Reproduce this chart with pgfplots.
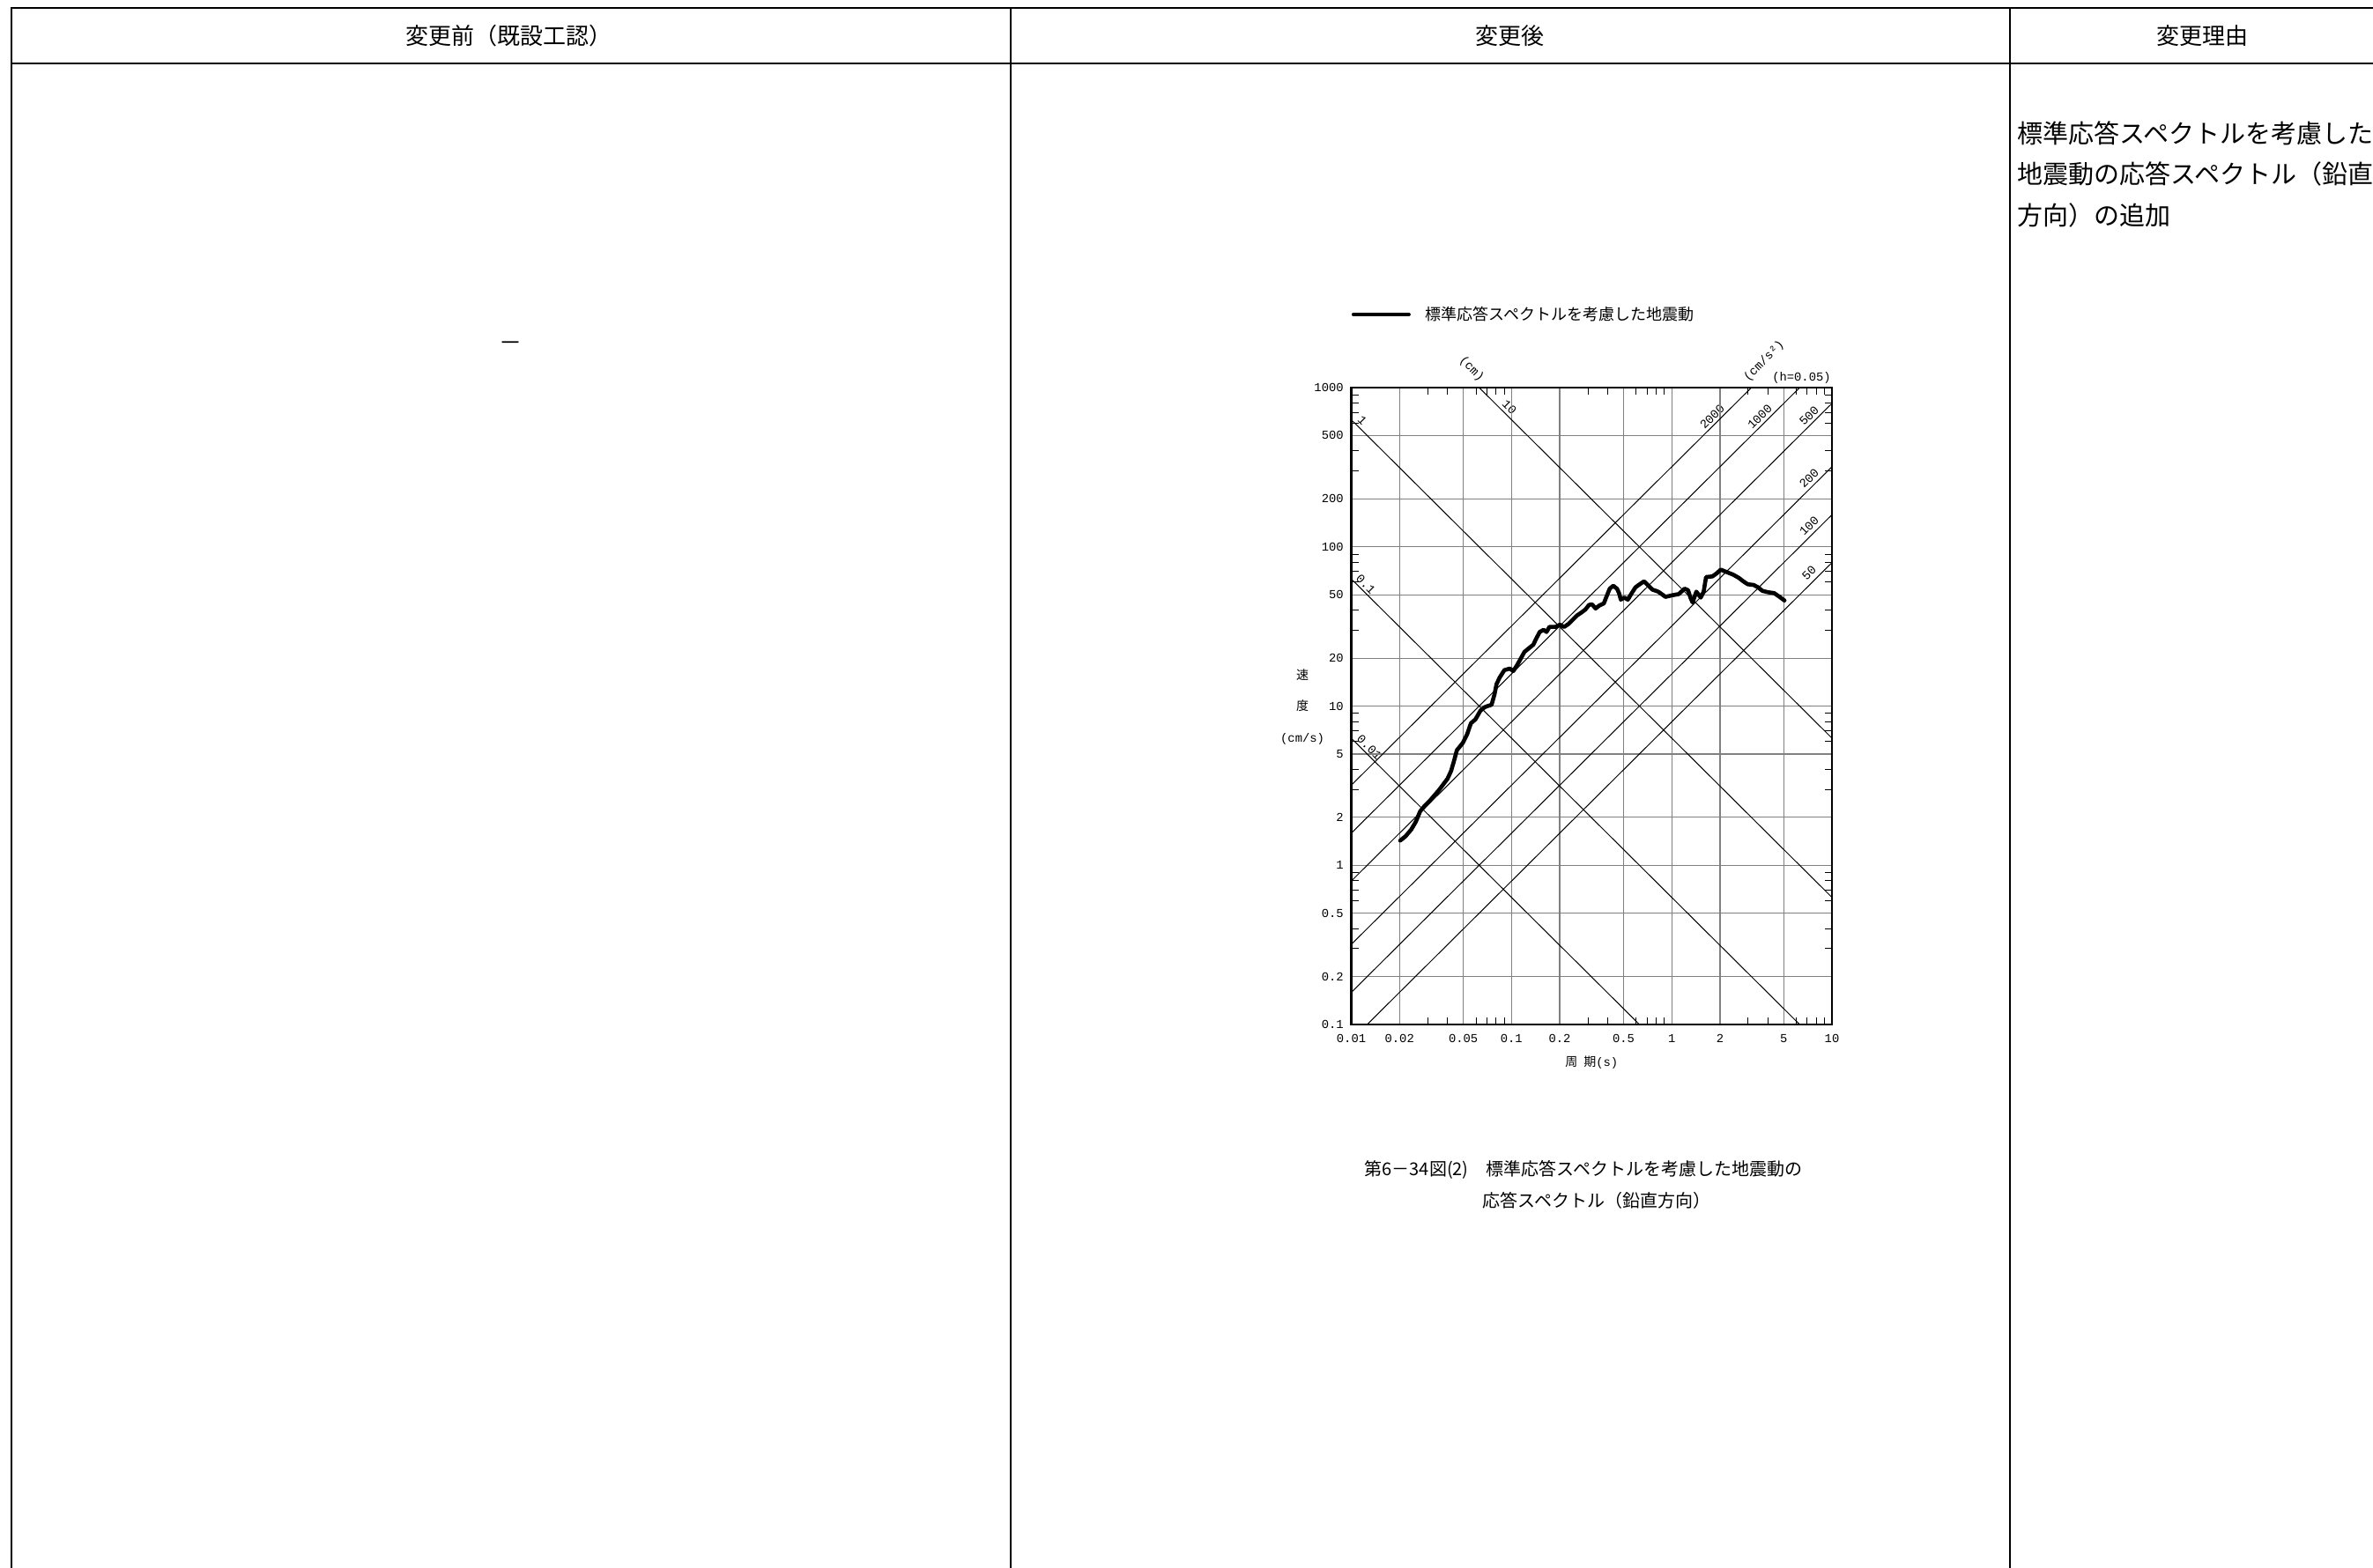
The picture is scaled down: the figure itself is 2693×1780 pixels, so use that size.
\documentclass[border=0pt]{standalone}
\usepackage{fontspec}
\setmainfont{Noto Sans CJK JP}
\newfontfamily\cjk{Noto Sans CJK JP}
\newfontfamily\tickfont{Liberation Mono}
\usepackage{pgfplots}
\pgfplotsset{compat=1.18}
\newcommand{\mono}{\tickfont\fontsize{6.9pt}{8pt}\selectfont}
\begin{document}
\begin{tikzpicture}
\begin{scope}[x=0.5pt,y=-0.5pt]
\path[use as bounding box] (0,0) rectangle (2693,1780);
% table lines
\draw[line width=1.2pt] (12,9) -- (2693,9);
\draw[line width=1.2pt] (12,72) -- (2693,72);
\draw[line width=1pt] (13,8) -- (13,1780);
\draw[line width=1pt] (1147,8) -- (1147,1780);
\draw[line width=1pt] (2281,8) -- (2281,1780);
% header texts
\node[font=\cjk\fontsize{13pt}{15pt}\selectfont] at (577,41) {変更前（既設工認）};
\node[font=\cjk\fontsize{13pt}{15pt}\selectfont] at (1713,41) {変更後};
\node[font=\cjk\fontsize{13pt}{15pt}\selectfont] at (2499,41) {変更理由};
\node[font=\cjk\fontsize{13pt}{15pt}\selectfont] at (579,393) {－};
\node[font=\cjk\fontsize{14.5pt}{16pt}\selectfont, anchor=west, inner sep=0pt] at (2289,151) {標準応答スペクトルを考慮した};
\node[font=\cjk\fontsize{14.5pt}{16pt}\selectfont, anchor=west, inner sep=0pt] at (2289,197.5) {地震動の応答スペクトル（鉛直};
\node[font=\cjk\fontsize{14.5pt}{16pt}\selectfont, anchor=west, inner sep=0pt] at (2289,244) {方向）の追加};
% caption
\node[font=\cjk\fontsize{10pt}{12pt}\selectfont] at (1797,1328) {第6－34図(2)　標準応答スペクトルを考慮した地震動の};
\node[font=\cjk\fontsize{10pt}{12pt}\selectfont] at (1812,1363) {応答スペクトル（鉛直方向）};
% chart annotations
\node[font=\mono, rotate=-45, inner sep=0pt] at (1670,419) {(cm)};
\node[font=\mono, rotate=45, inner sep=0pt] at (2002,410) {(cm/s²)};
\node[font=\mono, anchor=east, inner sep=0pt] at (2078,429) {(h=0.05)};
\node[font=\mono, rotate=-45, inner sep=0pt] at (1546,477) {1};
\node[font=\mono, rotate=-45, inner sep=0pt] at (1550,663) {0.1};
\node[font=\mono, rotate=-45, inner sep=0pt] at (1554,848) {0.01};
\node[font=\mono, rotate=-45, inner sep=0pt] at (1713,462) {10};
\node[font=\mono, rotate=45, inner sep=0pt] at (1943,473) {2000};
\node[font=\mono, rotate=45, inner sep=0pt] at (1997,473) {1000};
\node[font=\mono, rotate=45, inner sep=0pt] at (2053,472) {500};
\node[font=\mono, rotate=45, inner sep=0pt] at (2053,543) {200};
\node[font=\mono, rotate=45, inner sep=0pt] at (2053,597) {100};
\node[font=\mono, rotate=45, inner sep=0pt] at (2053,650) {50};
\end{scope}
\begin{axis}[
  at={(766.75pt,-581.5pt)}, anchor=south west,
  width=272.75pt, height=361.5pt, scale only axis,
  xmode=log, ymode=log,
  xmin=0.01, xmax=10, ymin=0.1, ymax=1000,
  xtick={0.01,0.02,0.05,0.1,0.2,0.5,1,2,5,10},
  xticklabels={0.01,0.02,0.05,0.1,0.2,0.5,1,2,5,10},
  ytick={0.1,0.2,0.5,1,2,5,10,20,50,100,200,500,1000},
  yticklabels={0.1,0.2,0.5,1,2,5,10,20,50,100,200,500,1000},
  minor xtick={0.03,0.04,0.06,0.07,0.08,0.09,0.3,0.4,0.6,0.7,0.8,0.9,3,4,6,7,8,9},
  minor ytick={0.3,0.4,0.6,0.7,0.8,0.9,3,4,6,7,8,9,30,40,60,70,80,90,300,400,600,700,800,900},
  grid=major,
  major grid style={black!50, line width=0.6pt},
  major tick length=0pt, minor tick length=4pt,
  tick align=inside,
  minor tick style={black, line width=0.5pt},
  axis line style={line width=1.4pt},
  /pgf/number format/assume math mode=true,
  tick label style={font=\mono},
  xticklabel style={anchor=north, inner sep=0pt, yshift=-5.5pt},
  yticklabel style={anchor=east, inner sep=0pt, xshift=-4.25pt},
  every axis x label/.style={at={(axis description cs:0.5,-0.0595)}, anchor=center},
  every axis y label/.style={at={(axis description cs:-0.1017,0.4986)}, anchor=center, align=center},
  xlabel={{\cjk\fontsize{7pt}{8pt}\selectfont 周\hspace{3.5pt}期}{\mono (s)}},
  ylabel={{\cjk\fontsize{7pt}{8pt}\selectfont 速}\\[5.8pt]{\cjk\fontsize{7pt}{8pt}\selectfont 度}\\[5.8pt]{\mono (cm/s)}},
  legend style={at={(axis description cs:0,1.1148)}, anchor=west, draw=none, fill=none, inner sep=0pt, nodes={inner sep=0pt}, font=\cjk\fontsize{9pt}{10pt}\selectfont},
  legend cell align=left,
  legend image code/.code={\draw[black, line width=2pt] (0pt,0pt) -- (31.5pt,0pt);},
]
% displacement lines (cm)
\addplot[forget plot, black, line width=0.5pt] coordinates {(0.062832,1000) (10,6.2832)};
\addplot[forget plot, black, line width=0.5pt] coordinates {(0.01,628.32) (10,0.62832)};
\addplot[forget plot, black, line width=0.5pt] coordinates {(0.01,62.832) (6.2832,0.1)};
\addplot[forget plot, black, line width=0.5pt] coordinates {(0.01,6.2832) (0.62832,0.1)};
% acceleration lines (cm/s^2)
\addplot[forget plot, black, line width=0.5pt] coordinates {(0.01,3.1831) (3.1416,1000)};
\addplot[forget plot, black, line width=0.5pt] coordinates {(0.01,1.5915) (6.2832,1000)};
\addplot[forget plot, black, line width=0.5pt] coordinates {(0.01,0.79577) (10,795.77)};
\addplot[forget plot, black, line width=0.5pt] coordinates {(0.01,0.31831) (10,318.31)};
\addplot[forget plot, black, line width=0.5pt] coordinates {(0.01,0.15915) (10,159.15)};
\addplot[forget plot, black, line width=0.5pt] coordinates {(0.012566,0.1) (10,79.577)};
% spectrum
\addplot[black, line width=2.3pt, line join=round, line cap=round] coordinates {
(0.0202,1.43) (0.0218,1.52) (0.0237,1.68) (0.0253,1.88) (0.0269,2.18) (0.0287,2.36)
(0.0312,2.57) (0.0354,2.98) (0.0399,3.50) (0.0420,3.92) (0.0441,4.65) (0.0456,5.28)
(0.0497,5.87) (0.0529,6.67) (0.0558,7.80) (0.0595,8.24) (0.0640,9.36) (0.0681,9.85)
(0.0751,10.19) (0.0783,11.83) (0.0806,13.71) (0.0842,15.07) (0.0903,16.82) (0.0975,17.18)
(0.1026,16.6) (0.1084,18.09) (0.1205,21.9) (0.1368,24.3) (0.1426,26.5) (0.150,29.2)
(0.1585,30.1) (0.1654,29.2) (0.1724,31.4) (0.1877,31.4) (0.200,32.4) (0.2130,31.4)
(0.2269,32.8) (0.2417,34.9) (0.2576,37.2) (0.2744,38.8) (0.2898,40.5) (0.3048,43.2)
(0.3183,43.5) (0.3347,41.0) (0.3535,42.8) (0.3767,44.1) (0.3927,49.0) (0.410,54.6)
(0.4314,56.9) (0.4554,54.6) (0.4688,51.2) (0.481,46.6) (0.5058,48.0) (0.5322,46.6)
(0.5626,51.2) (0.5943,55.7) (0.6306,58.2) (0.6718,60.7) (0.7096,57.4) (0.756,53.9)
(0.8229,52.3) (0.865,50.5) (0.914,48.5) (0.995,49.5) (1.106,50.5) (1.203,54.6)
(1.265,53.4) (1.308,48.0) (1.349,44.7) (1.424,52.3) (1.517,48.0) (1.582,52.3)
(1.637,64.6) (1.796,65.2) (1.912,68.3) (2.023,71.9) (2.171,69.8) (2.415,66.9)
(2.625,63.8) (2.797,60.7) (2.98,58.2) (3.243,57.6) (3.455,55.7) (3.68,52.9)
(3.97,51.9) (4.356,51.2) (4.643,49.0) (5.05,46.0)
};
\addlegendentry{\hspace*{8.5pt}標準応答スペクトルを考慮した地震動}
\end{axis}
\end{tikzpicture}
\end{document}
